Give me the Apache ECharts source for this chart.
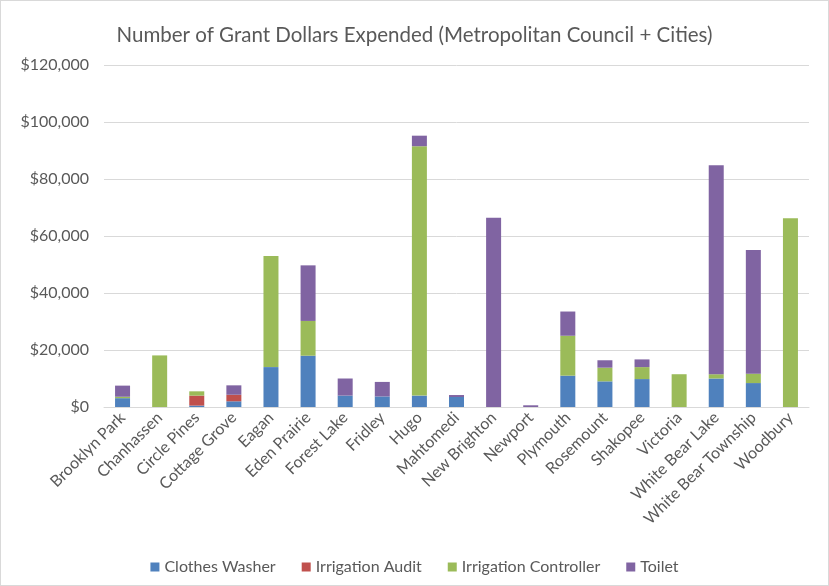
<!DOCTYPE html>
<html><head><meta charset="utf-8">
<script src="https://cdn.jsdelivr.net/npm/echarts@6/dist/echarts.min.js"></script>
<style>html,body{margin:0;padding:0;background:#fff;}#c{width:829px;height:586px;box-sizing:border-box;border:1px solid #d9d9d9;}</style>
</head><body><div id="c"></div>
<script>
const categories = ["Brooklyn Park","Chanhassen","Circle Pines","Cottage Grove","Eagan","Eden Prairie","Forest Lake","Fridley","Hugo","Mahtomedi","New Brighton","Newport","Plymouth","Rosemount","Shakopee","Victoria","White Bear Lake","White Bear Township","Woodbury"];
const clothesWasher = [3100,0,500,2000,14000,18000,4000,3700,4000,3500,0,0,11000,9000,9800,0,10000,8400,0];
const irrigationAudit = [0,0,3500,2300,0,0,0,0,0,0,0,0,0,0,0,0,0,0,0];
const irrigationController = [500,18100,1500,0,39000,12200,0,0,87500,0,0,0,14000,4800,4200,11500,1500,3300,66200];
const toilet = [3900,0,0,3300,0,19500,6000,5100,3700,700,66400,600,8500,2600,2700,0,73300,43400,0];
const seriesNames = ["Clothes Washer","Irrigation Audit","Irrigation Controller","Toilet"];
const colors = ["#4F81BD","#C0504D","#9BBB59","#8064A2"];
const font = "Lato, 'Open Sans', sans-serif";
const chart = echarts.init(document.getElementById('c'));
const dataSets = [clothesWasher, irrigationAudit, irrigationController, toilet];
chart.setOption({
  animation:false,
  color: colors,
  title:{text:"Number of Grant Dollars Expended (Metropolitan Council + Cities)",left:'center',top:19,textStyle:{fontFamily:font,fontSize:20.5,fontWeight:'normal',color:'#595959'}},
  grid:{left:103,right:19,top:64,bottom:178},
  legend:{bottom:5,left:'center',itemWidth:9,itemHeight:9,itemGap:26,icon:'rect',textStyle:{fontFamily:font,fontSize:16,color:'#595959'},data:seriesNames},
  xAxis:{type:'category',data:categories,axisTick:{show:false},axisLine:{lineStyle:{color:'#d9d9d9'}},
    axisLabel:{rotate:45,interval:0,fontFamily:font,fontSize:16,color:'#595959',margin:8}},
  yAxis:{type:'value',min:0,max:120000,interval:20000,axisLine:{show:false},axisTick:{show:false},
    splitLine:{lineStyle:{color:'#d9d9d9'}},
    axisLabel:{fontFamily:font,fontSize:16,color:'#595959',margin:15,formatter:v=>'$'+v.toLocaleString('en-US')}},
  series: seriesNames.map((n,i)=>({name:n,type:'bar',stack:'a',barWidth:15,data:dataSets[i]}))
});
</script></body></html>
